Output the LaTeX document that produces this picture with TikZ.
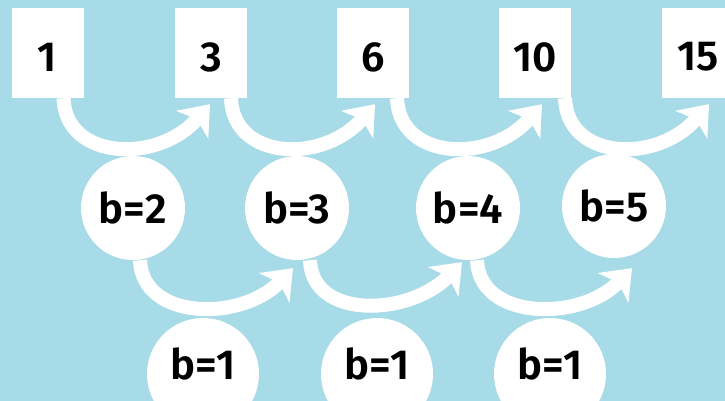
\documentclass[tikz,border=0pt]{standalone}
\usepackage{fontspec}
\setmainfont{Fira Sans}[BoldFont={* SemiBold}]
\usetikzlibrary{arrows.meta}
\definecolor{bgblue}{RGB}{167,219,232}
\tikzset{
  numbox/.style={fill=white, minimum width=72pt, minimum height=90pt, inner sep=0pt, font=\fontsize{42}{42}\selectfont\bfseries, text=black},
  bcirc/.style={fill=white, circle, minimum size=104pt, inner sep=0pt, font=\fontsize{42}{42}\selectfont\bfseries, text=black},
  lowcirc/.style={fill=white, circle, minimum size=112pt, inner sep=0pt, font=\fontsize{42}{42}\selectfont\bfseries, text=black},
  flow/.style={draw=white, line width=14pt, -{Stealth[length=27pt,width=42pt,inset=7pt]}}
}
\begin{document}
\begin{tikzpicture}[x=1pt,y=-1pt]
\useasboundingbox (0,0) rectangle (725,401);
\clip (0,0) rectangle (725,401);
\fill[bgblue] (0,0) rectangle (725,401);
% top boxes
\node[numbox] (n1) at (47.5,53) {\raisebox{-4pt}[\height][\depth]{1}};
\node[numbox] (n3) at (211,53) {\raisebox{-4pt}[\height][\depth]{3}};
\node[numbox] (n6) at (373,53) {\raisebox{-4pt}[\height][\depth]{6}};
\node[numbox] (n10) at (535,53) {\raisebox{-4pt}[\height][\depth]{10}};
\node[numbox] (n15) at (698,53) {\raisebox{-4pt}[\height][\depth]{15}};
% middle circles
\node[bcirc] (c2) at (133,208) {b=2};
\node[bcirc] (c3) at (297,208) {b=3};
\node[bcirc] (c4) at (468,208) {b=4};
\node[bcirc] (c5) at (614,206) {b=5};
% bottom circles
\node[lowcirc] (d1) at (203,374) {\raisebox{10pt}[\height][\depth]{b=1}};
\node[lowcirc] (d2) at (377,374) {\raisebox{10pt}[\height][\depth]{b=1}};
\node[lowcirc] (d3) at (550,374) {\raisebox{10pt}[\height][\depth]{b=1}};
% top arrows
\draw[flow] ([xshift=16pt]n1.south) .. controls +(2,62) and +(-52,60) .. ([xshift=-1pt,yshift=-6pt]n3.south);
\draw[flow] ([xshift=20pt]n3.south) .. controls +(2,62) and +(-52,60) .. ([xshift=2pt,yshift=-6pt]n6.south);
\draw[flow] ([xshift=24pt]n6.south) .. controls +(2,62) and +(-52,60) .. ([xshift=7pt,yshift=-6pt]n10.south);
\draw[flow] ([xshift=30pt]n10.south) .. controls +(2,62) and +(-52,60) .. ([xshift=11pt,yshift=-6pt]n15.south);
% lower arrows
\draw[flow] ([xshift=7pt]c2.south) .. controls +(2,60) and +(-52,54) .. ([xshift=-4pt,yshift=-8pt]c3.south);
\draw[flow] ([xshift=13pt]c3.south) .. controls +(2,60) and +(-52,54) .. ([xshift=-6pt,yshift=-2pt]c4.south);
\draw[flow] ([xshift=9pt]c4.south) .. controls +(2,60) and +(-52,54) .. ([xshift=18pt,yshift=-10pt]c5.south);
\end{tikzpicture}
\end{document}
